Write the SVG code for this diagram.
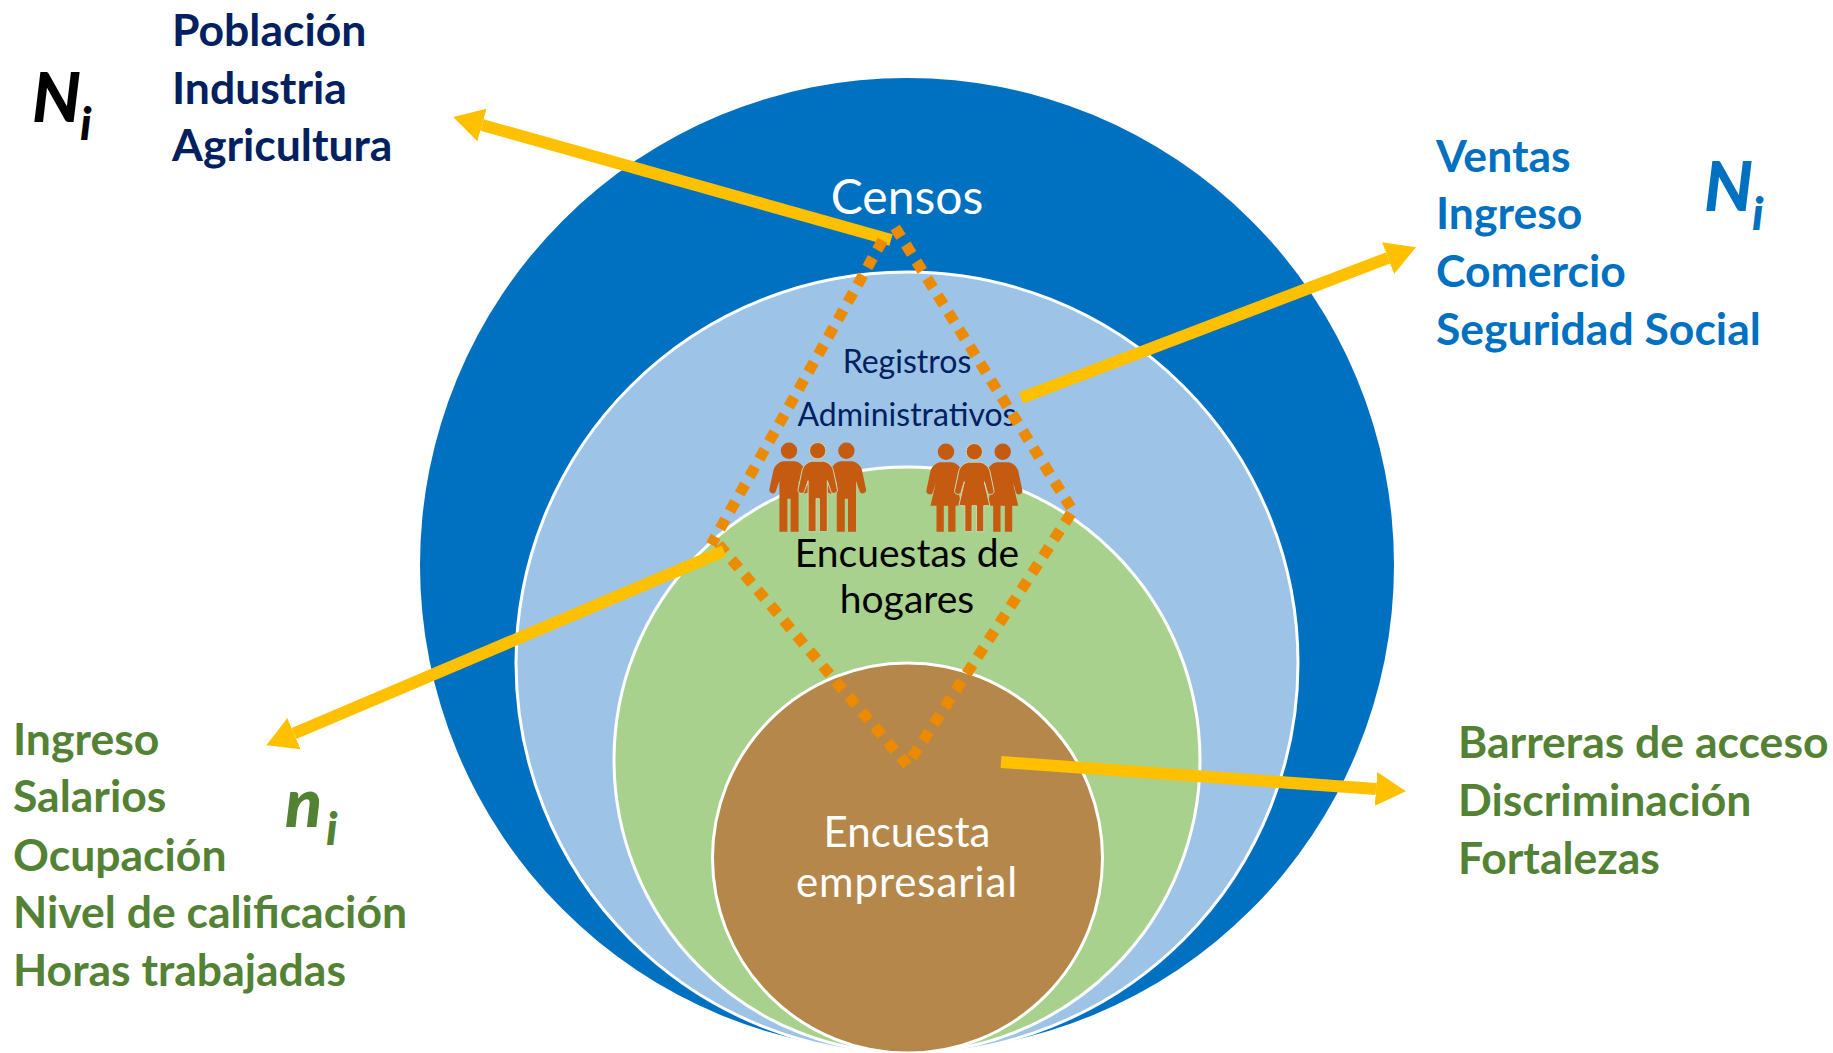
<svg xmlns="http://www.w3.org/2000/svg" xmlns:xlink="http://www.w3.org/1999/xlink" width="1833" height="1053" viewBox="0 0 1833 1053">
<style>
text{font-family:"Lato","Carlito","Liberation Sans",sans-serif}
.b{font-weight:700;font-size:44.5px}
.c{text-anchor:middle}
.ring{stroke:#fff;stroke-width:3}
.dk{fill:#002060}.gr{fill:#548235}.bl{fill:#0070C0}
.sym{font-weight:900;font-style:italic;font-size:68px}
.sub{font-weight:900;font-style:italic;font-size:46px}
.arrow{fill:none;stroke:#FFC000;stroke-width:12;marker-end:url(#head)}
.p{fill:#C55A11}
.front{stroke:#C9D9B0;stroke-width:1}
.dash{fill:none;stroke:#ED8B00;stroke-width:11;stroke-dasharray:11 9}
</style>
<defs>
<marker id="head" markerUnits="userSpaceOnUse" markerWidth="32" markerHeight="36" refX="0" refY="18" orient="auto" viewBox="0 0 32 36"><path d="M0,1 L30,18 L0,35 Z" fill="#FFC000"/></marker>
<g id="man"><circle cx="0" cy="0" r="8.2"/><path d="M-9.6,81 H-1.6 V48 H1.6 V81 H9.6 V30 L13,40 a3.3,3.3 0 0 0 6.6,-1.5 L15.5,19 Q13,12 6,10.5 H-6 Q-13,12 -15.5,19 L-19.6,38.5 a3.3,3.3 0 0 0 6.6,1.5 L-9.6,30 Z"/></g>
<g id="woman"><circle cx="0" cy="0" r="8.2"/><path d="M-9.5,80 H-2.2 V54 H2.2 V80 H9.5 V54 H15.5 L10,30 L13,40 a3.3,3.3 0 0 0 6.6,-1.5 L15.5,19 Q13,12 6,10.5 H-6 Q-13,12 -15.5,19 L-19.6,38.5 a3.3,3.3 0 0 0 6.6,1.5 L-10,30 L-15.5,54 H-9.5 Z"/></g>
</defs>
<g id="censos"><circle cx="907" cy="565" r="487" fill="#0070C0"/><text class="c" x="907" y="214" font-size="48" fill="#fff">Censos</text></g>
<g id="registros"><circle class="ring" cx="907" cy="663" r="391" fill="#9DC3E6"/></g>
<g id="hogares"><circle class="ring" cx="907" cy="760" r="293" fill="#A9D18E"/></g>
<g id="empresarial"><circle class="ring" cx="907.5" cy="858" r="195" fill="#B5874A"/></g>
<g id="registros-label" class="dk"><text class="c" x="907" y="373" font-size="32">Registros</text><text class="c" x="907" y="426" font-size="32">Administrativos</text></g>
<g id="hogares-label"><text class="c" x="907" y="567" font-size="39">Encuestas de</text><text class="c" x="907" y="613" font-size="39">hogares</text></g>
<g id="empresarial-label" fill="#fff"><text class="c" x="907" y="847" font-size="42">Encuesta</text><text class="c" x="907" y="897" font-size="42" letter-spacing="0.9">empresarial</text></g>
<g id="hombres" class="p"><use xlink:href="#man" x="789" y="450.7"/><use xlink:href="#man" x="846.4" y="450.7"/><use xlink:href="#man" class="front" x="817.7" y="450.7"/></g>
<g id="mujeres" class="p"><use xlink:href="#woman" x="946" y="451.7"/><use xlink:href="#woman" x="1002.7" y="451.7"/><use xlink:href="#woman" class="front" x="974.3" y="451.7"/></g>
<g id="connectors">
<path class="arrow" d="M891,240 L482,125"/>
<path class="dash" d="M895.2,227.6 L1070.8,507.4"/>
<path class="dash" d="M882.6,240.4 L711.1,544.6"/>
<path class="dash" d="M1070.9,513.6 L912.1,757.4"/>
<path class="dash" d="M718.6,544.5 L907.4,765"/>
<path class="arrow" d="M1021,398 L1388,258"/>
<path class="arrow" d="M724,551 L294,733.6"/>
<path class="arrow" d="M1001,762 L1376,789"/>
</g>
<g id="poblacion" class="b dk"><text x="172" y="46">Población</text><text x="172" y="104">Industria</text><text x="172" y="161">Agricultura</text></g>
<g id="ventas" class="b bl"><text x="1436" y="172">Ventas</text><text x="1436" y="229">Ingreso</text><text x="1436" y="287">Comercio</text><text x="1436" y="345">Seguridad Social</text></g>
<g id="ingreso" class="b gr"><text x="13" y="755">Ingreso</text><text x="13" y="812">Salarios</text><text x="13" y="871">Ocupación</text><text x="13" y="928">Nivel de calificación</text><text x="13" y="986">Horas trabajadas</text></g>
<g id="barreras" class="b gr"><text x="1458" y="758">Barreras de acceso</text><text x="1458" y="816">Discriminación</text><text x="1458" y="874">Fortalezas</text></g>
<g id="Ni-black"><text class="sym" x="32" y="122">N</text><text class="sub" x="80" y="140">i</text></g>
<g id="Ni-blue" class="bl"><text class="sym" x="1704" y="211">N</text><text class="sub" x="1752" y="230">i</text></g>
<g id="ni-green" class="gr"><text class="sym" x="285" y="827">n</text><text class="sub" x="326" y="845">i</text></g>
</svg>
